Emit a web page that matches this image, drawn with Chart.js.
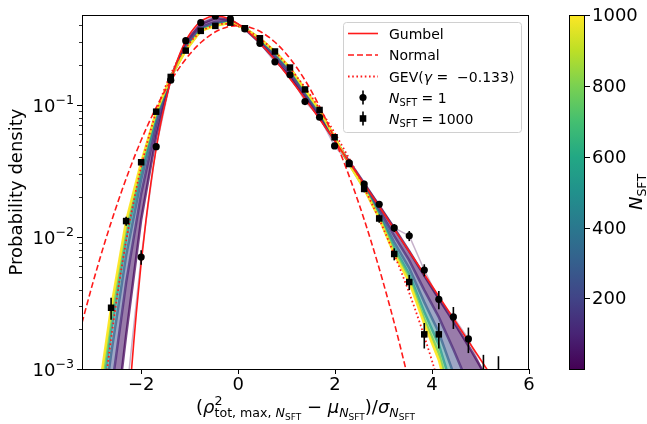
<!DOCTYPE html>
<html>
<head>
<meta charset="utf-8">
<script src="https://cdn.jsdelivr.net/npm/chart.js@4.4.1/dist/chart.umd.min.js"></script>
<style>
  html,body{margin:0;padding:0;background:#fff}
  #wrap{width:647px;height:424px}
</style>
</head>
<body>
<div id="wrap"><canvas id="c" width="647" height="424"></canvas></div>
<script>
/* ---- histogram bin centres ---- */
const xBins=[-2.92,-2.62,-2.31,-2.00,-1.69,-1.39,-1.08,-0.77,-0.47,-0.16,0.14,0.45,0.76,1.07,1.38,1.68,1.99,2.29,2.60,2.91,3.22,3.53,3.84,4.14,4.44,4.75,5.06,5.37];

/* ---- coloured N_SFT curves ---- */
const nsftLevels=[30,120,300,550,800,1000];
const nsft30  =[2e-5,2e-4,1.8e-3,0.0135,0.058,0.16,0.30,0.41,0.455,0.44,0.375,0.295,0.222,0.162,0.114,0.08,0.054,0.0375,0.0255,0.0172,0.0117,7.8e-3,5.1e-3,3.4e-3,2.3e-3,1.5e-3,9.5e-4,6e-4];
const nsft120 =[8.5e-5,6.6e-4,4.5e-3,0.0212,0.0703,0.1614,0.2805,0.389,0.4276,0.4305,0.3776,0.3062,0.236,0.1746,0.1213,0.0851,0.0552,0.0367,0.0246,0.0161,0.0102,6.64e-3,3.96e-3,2.47e-3,1.41e-3,7.6e-4,4e-4,2.2e-4];
const nsft300 =[1.9e-4,1.29e-3,7.2e-3,0.0272,0.0782,0.1622,0.27,0.3776,0.414,0.4256,0.3793,0.3126,0.2438,0.1824,0.1256,0.0879,0.056,0.0362,0.0241,0.01524,9.1e-3,5.81e-3,3.21e-3,1.89e-3,9.3e-4,4.4e-4,1.9e-4,9e-5];
const nsft550 =[3.1e-4,1.95e-3,9.8e-3,0.0317,0.0834,0.1626,0.2642,0.3707,0.4055,0.4227,0.3802,0.3162,0.2489,0.1871,0.1282,0.0897,0.0565,0.036,0.0236,0.01459,8.3e-3,5.21e-3,2.7e-3,1.53e-3,6.7e-4,2.8e-4,1e-4,4e-5];
const nsft800 =[4.3e-4,2.51e-3,0.012,0.035,0.0871,0.163,0.26,0.3664,0.3999,0.4207,0.3811,0.3184,0.2523,0.1901,0.13,0.091,0.0568,0.0358,0.0233,0.01413,7.74e-3,4.81e-3,2.38e-3,1.31e-3,5.3e-4,2e-4,7e-5,2.5e-5];
const nsft1000=[5e-4,2.9e-3,0.0132,0.0368,0.0889,0.163,0.258,0.364,0.397,0.42,0.381,0.32,0.254,0.192,0.131,0.0916,0.0569,0.0357,0.0231,0.0138,7.4e-3,4.56e-3,2.2e-3,1.17e-3,4.5e-4,1.6e-4,5e-5,1.5e-5];
const nsft1   =[3e-5,1e-4,6e-4,7.05e-3,0.0483,0.154,0.307,0.42,0.472,0.448,0.377,0.293,0.212,0.169,0.106,0.0807,0.0489,0.0364,0.0252,0.0177,0.0117,0.0102,5.62e-3,3.37e-3,2.48e-3,1.69e-3,9.3e-4,9e-4];

/* ---- markers with error bars ---- */
const n1Y   =[null,null,null,7.05e-3,0.0483,0.154,0.307,0.42,0.472,0.448,0.377,0.293,0.212,0.169,0.106,0.0807,0.0489,0.0364,0.0252,0.0177,0.0117,0.0102,5.62e-3,3.37e-3,2.48e-3,1.69e-3,9.3e-4,9e-4];
const n1Err =[null,null,null,9e-4,2.4e-3,5e-3,7e-3,8e-3,8e-3,8e-3,8e-3,7e-3,6e-3,5e-3,4e-3,3e-3,2.5e-3,2e-3,1.5e-3,9e-4,8e-4,9e-4,5.9e-4,5.3e-4,4.7e-4,3.7e-4,3.5e-4,3.5e-4];
const n1000Y  =[null,2.91e-3,0.0132,0.0368,0.0889,0.163,0.258,0.364,0.397,0.42,0.381,0.32,0.254,0.192,0.131,0.0916,0.0569,0.0357,0.0231,0.0138,7.43e-3,4.56e-3,1.83e-3,1.83e-3,null,null,null,null];
const n1000Err=[null,5.5e-4,1.05e-3,1.5e-3,3e-3,5e-3,6e-3,7e-3,7e-3,7e-3,7e-3,6e-3,6e-3,5e-3,4e-3,3e-3,2.5e-3,1.8e-3,1.3e-3,1e-3,7.8e-4,6e-4,4e-4,4e-4,null,null,null,null];

/* ---- reference distributions ---- */
const gumbelX=[-2.3,-2.25,-2.2,-2.15,-2.1,-2.0,-1.9,-1.8,-1.7,-1.6,-1.5,-1.4,-1.3,-1.2,-1.1,-1.0,-0.9,-0.8,-0.6,-0.45,-0.3,-0.2,0,0.25,0.5,0.75,1.0,1.5,2.0,2.5,3.0,3.5,4.0,4.5,5.0,5.5];
const gumbelY=[3.0e-4,5.5e-4,9.7e-4,1.63e-3,2.64e-3,6.32e-3,0.0134,0.0255,0.0443,0.0709,0.1056,0.1475,0.195,0.2451,0.2955,0.343,0.3848,0.4195,0.4626,0.4718,0.4637,0.4504,0.4107,0.3477,0.2822,0.222,0.171,0.0969,0.0531,0.0285,0.0152,8.04e-3,4.25e-3,2.24e-3,1.18e-3,6.2e-4];
const normalX=[-3.22,-3.0,-2.75,-2.5,-2.25,-2.0,-1.75,-1.5,-1.25,-1.0,-0.75,-0.5,-0.25,0,0.25,0.5,0.75,1.0,1.25,1.5,1.75,2.0,2.25,2.5,2.75,3.0,3.25,3.5];
const normalY=[2.24e-3,4.43e-3,9.09e-3,0.0175,0.0317,0.054,0.0863,0.1295,0.1826,0.242,0.3011,0.3521,0.3867,0.3989,0.3867,0.3521,0.3011,0.242,0.1826,0.1295,0.0863,0.054,0.0317,0.0175,9.09e-3,4.43e-3,2.03e-3,8.7e-4];
const gevX=[-2.8,-2.7,-2.6,-2.5,-2.4,-2.25,-2.0,-1.75,-1.5,-1.25,-1.0,-0.75,-0.5,-0.25,0,0.25,0.5,0.75,1.0,1.25,1.5,1.75,2.0,2.25,2.5,2.75,3.0,3.25,3.5,3.75,4.0,4.25];
const gevY=[5.1e-4,1.01e-3,1.92e-3,3.46e-3,5.95e-3,0.0123,0.0339,0.075,0.1375,0.2154,0.295,0.3608,0.4012,0.4116,0.3946,0.3573,0.3082,0.2548,0.203,0.1567,0.1174,0.0855,0.0606,0.0418,0.028,0.0182,0.0115,6.94e-3,4.03e-3,2.22e-3,1.15e-3,5.6e-4];

/* ---- axes ---- */
const xTicks=[-2,0,2,4,6];
const yMajor=[1e-3,1e-2,1e-1];
const yMajorExp=['\u22123','\u22122','\u22121'];
const yMinor=[2e-3,3e-3,4e-3,5e-3,6e-3,7e-3,8e-3,9e-3,2e-2,3e-2,4e-2,5e-2,6e-2,7e-2,8e-2,9e-2,2e-1,3e-1,4e-1];
const cbTicks=[200,400,600,800,1000];

const FONT='"DejaVu Sans"';
const bandStyle=[
  {line:'rgba(70,8,92,0.75)',  fill:'rgba(70,16,100,0.55)'},
  {line:'rgba(72,37,118,0.7)', fill:'rgba(62,80,140,0.5)'},
  {line:'rgba(53,95,141,0.7)', fill:'rgba(37,138,140,0.5)'},
  {line:'rgba(31,154,138,0.7)',fill:'rgba(90,198,95,0.5)'},
  {line:'rgba(122,209,81,0.8)',fill:'rgba(215,228,40,0.65)'},
  {line:'rgba(253,231,37,0.95)',fill:false}
];
const viridis=['#440154','#482475','#414487','#355f8d','#2a788e','#21918c','#22a884','#44bf70','#7ad151','#bddf26','#fde725'];

const pts=(xs,ys,es)=>xs.map((x,i)=>({x,y:ys[i],e:es?es[i]:null})).filter(p=>p.y!=null);
const bandArrays=[nsft30,nsft120,nsft300,nsft550,nsft800,nsft1000];

const datasets=bandArrays.map((arr,i)=>({
  label:'N'+nsftLevels[i],data:pts(xBins,arr),showLine:true,borderColor:bandStyle[i].line,
  backgroundColor:bandStyle[i].fill||'transparent',fill:bandStyle[i].fill?'+1':false,
  borderWidth:2.5,pointRadius:0,order:10-i
}));
datasets.push(
  {label:'N1 line',data:pts(xBins,nsft1),showLine:true,borderColor:'rgba(68,1,84,0.3)',borderWidth:1.5,pointRadius:0,order:4},
  {label:'Gumbel',data:pts(gumbelX,gumbelY),showLine:true,borderColor:'#ff1a1a',borderWidth:1.6,pointRadius:0,cubicInterpolationMode:'monotone',order:3},
  {label:'Normal',data:pts(normalX,normalY),showLine:true,borderColor:'#ff1a1a',borderWidth:1.6,borderDash:[6,3],pointRadius:0,cubicInterpolationMode:'monotone',order:3},
  {label:'GEV',data:pts(gevX,gevY),showLine:true,borderColor:'#ff1a1a',borderWidth:1.8,borderDash:[1.6,2.6],pointRadius:0,cubicInterpolationMode:'monotone',order:3},
  {label:'NSFT=1',data:pts(xBins,n1Y,n1Err),showLine:false,pointStyle:'circle',pointRadius:3.6,backgroundColor:'#000',borderWidth:0,order:1,errs:true},
  {label:'NSFT=1000',data:pts(xBins,n1000Y,n1000Err),showLine:false,pointStyle:'rect',pointRadius:4.6,backgroundColor:'#000',borderWidth:0,order:0,errs:true}
);

function runText(ctx,x,y,parts,draw){
  let cx=x;
  parts.forEach(p=>{
    ctx.font=(p.it?'italic ':'')+p.s+'px '+FONT;
    const w=ctx.measureText(p.t).width;
    if(draw) ctx.fillText(p.t,cx,y+(p.dy||0));
    if(!p.hold) cx+=w;
  });
  return cx-x;
}

const decor={
  id:'decor',
  beforeDatasetDraw(chart,args){
    const ds=chart.data.datasets[args.index];
    if(!ds.errs) return;
    const {ctx,chartArea:a,scales:{x,y}}=chart;
    ctx.save();
    ctx.beginPath();ctx.rect(a.left,a.top,a.right-a.left,a.bottom-a.top);ctx.clip();
    ctx.strokeStyle='#000';ctx.lineWidth=1.6;
    ds.data.forEach(p=>{
      if(!p.e) return;
      const px=x.getPixelForValue(p.x);
      ctx.beginPath();
      ctx.moveTo(px,y.getPixelForValue(p.y+p.e));
      ctx.lineTo(px,y.getPixelForValue(Math.max(p.y-p.e,1e-6)));
      ctx.stroke();
    });
    ctx.restore();
  },
  afterDraw(chart){
    const {ctx,chartArea:a,scales:{x,y,cb}}=chart;
    ctx.save();
    ctx.fillStyle='#000';ctx.strokeStyle='#000';
    // frame
    ctx.lineWidth=1;ctx.strokeRect(a.left+0.5,a.top+0.5,a.right-a.left-1,a.bottom-a.top);
    // x ticks
    xTicks.forEach(v=>{const px=Math.round(x.getPixelForValue(v))+0.5;ctx.beginPath();ctx.moveTo(px,a.bottom);ctx.lineTo(px,a.bottom+5);ctx.stroke();});
    // y ticks
    yMinor.forEach(v=>{const py=Math.round(y.getPixelForValue(v))+0.5;ctx.lineWidth=0.8;ctx.beginPath();ctx.moveTo(a.left-3,py);ctx.lineTo(a.left,py);ctx.stroke();});
    ctx.textBaseline='alphabetic';ctx.textAlign='left';
    yMajor.forEach((v,i)=>{
      const py=Math.round(y.getPixelForValue(v))+0.5;
      ctx.lineWidth=1;ctx.beginPath();ctx.moveTo(a.left-5,py);ctx.lineTo(a.left,py);ctx.stroke();
      const parts=[{t:'10',s:18},{t:yMajorExp[i],s:12.6,dy:-8}];
      const w=runText(ctx,0,0,parts,false);
      runText(ctx,a.left-8-w,py+6.5,parts,true);
    });
    // y label
    ctx.save();ctx.translate(17.5,192);ctx.rotate(-Math.PI/2);
    ctx.font='18px '+FONT;ctx.textAlign='center';ctx.textBaseline='middle';
    ctx.fillText('Probability density',0,0);ctx.restore();
    // x label
    const xl=[{t:'(',s:18},{t:'\u03c1',s:18,it:1},{t:'2',s:12.6,dy:-8,hold:1},{t:'tot, max, ',s:12.6,dy:4},{t:'N',s:12.6,dy:4,it:1},{t:'SFT',s:9,dy:7},
      {t:' \u2212 ',s:18},{t:'\u03bc',s:18,it:1},{t:'N',s:12.6,dy:4,it:1},{t:'SFT',s:9,dy:7},{t:')/',s:18},{t:'\u03c3',s:18,it:1},{t:'N',s:12.6,dy:4,it:1},{t:'SFT',s:9,dy:7}];
    ctx.textAlign='left';ctx.textBaseline='alphabetic';
    const xw=runText(ctx,0,0,xl,false);
    runText(ctx,(a.left+a.right)/2-xw/2,413,xl,true);
    // colour bar
    const cbL=569,cbR=585;
    const g=ctx.createLinearGradient(0,a.bottom,0,a.top);
    viridis.forEach((c,i)=>g.addColorStop(i/(viridis.length-1),c));
    ctx.fillStyle=g;ctx.fillRect(cbL,a.top,cbR-cbL,a.bottom-a.top);
    ctx.strokeStyle='#000';ctx.lineWidth=1;ctx.strokeRect(cbL+0.5,a.top+0.5,cbR-cbL-1,a.bottom-a.top);
    ctx.fillStyle='#000';ctx.font='18px '+FONT;ctx.textBaseline='middle';ctx.textAlign='left';
    cbTicks.forEach(v=>{
      const py=Math.round(cb.getPixelForValue(v))+0.5;
      ctx.beginPath();ctx.moveTo(cbR,py);ctx.lineTo(cbR+5,py);ctx.stroke();
      ctx.fillText(String(v),cbR+7,py+1);
    });
    ctx.textBaseline='alphabetic';
    ctx.save();ctx.translate(636,192);ctx.rotate(-Math.PI/2);
    const cl=[{t:'N',s:18,it:1},{t:'SFT',s:12.6,dy:4}];
    const cw=runText(ctx,0,0,cl,false);
    runText(ctx,-cw/2,6,cl,true);ctx.restore();
    // legend
    const L={x:343.5,y:22.5,w:178,h:110};
    ctx.beginPath();ctx.roundRect(L.x,L.y,L.w,L.h,3);
    ctx.fillStyle='rgba(255,255,255,0.85)';ctx.fill();ctx.strokeStyle='#d0d0d0';ctx.stroke();
    const rows=[33.5,55,76.5,97.5,118.5];
    const lines=[[],[6,3],[1.6,2.6]];
    ctx.strokeStyle='#ff1a1a';
    lines.forEach((d,i)=>{ctx.setLineDash(d);ctx.lineWidth=i===2?1.8:1.6;ctx.beginPath();ctx.moveTo(348,rows[i]);ctx.lineTo(378,rows[i]);ctx.stroke();});
    ctx.setLineDash([]);
    ctx.strokeStyle='#000';ctx.fillStyle='#000';ctx.lineWidth=1.6;
    [3,4].forEach(i=>{ctx.beginPath();ctx.moveTo(363,rows[i]-7);ctx.lineTo(363,rows[i]+7);ctx.stroke();});
    ctx.beginPath();ctx.arc(363,rows[3],3.6,0,Math.PI*2);ctx.fill();
    ctx.fillRect(363-3.3,rows[4]-3.3,6.6,6.6);
    const lt=[
      [{t:'Gumbel',s:14}],
      [{t:'Normal',s:14}],
      [{t:'GEV(',s:14},{t:'\u03b3',s:14,it:1},{t:' =  \u22120.133)',s:14}],
      [{t:'N',s:14,it:1},{t:'SFT',s:9.8,dy:3.5},{t:' = 1',s:14}],
      [{t:'N',s:14,it:1},{t:'SFT',s:9.8,dy:3.5},{t:' = 1000',s:14}]
    ];
    lt.forEach((p,i)=>runText(ctx,389,rows[i]+5,p,true));
    ctx.restore();
  }
};

Chart.defaults.font.family=FONT;
Chart.defaults.color='#000';

new Chart(document.getElementById('c'),{
  type:'scatter',
  data:{datasets},
  options:{
    responsive:false,animation:false,events:[],
    layout:{padding:{top:15,left:0,right:0,bottom:0}},
    plugins:{legend:{display:false},tooltip:{enabled:false}},
    scales:{
      x:{type:'linear',position:'bottom',min:-3.22,max:6,
        grid:{display:false,drawTicks:false},border:{display:false},
        afterBuildTicks:s=>{s.ticks=xTicks.map(v=>({value:v}));},
        afterFit:s=>{s.height=55;},
        ticks:{font:{size:18},padding:6,autoSkip:false,maxRotation:0,callback:v=>String(v).replace('-','\u2212')}},
      y:{type:'logarithmic',position:'left',min:1e-3,max:0.48,
        grid:{display:false,drawTicks:false},border:{display:false},
        ticks:{display:false},
        afterFit:s=>{s.width=82;}},
      cb:{type:'linear',position:'right',min:1,max:1000,
        grid:{display:false,drawTicks:false},border:{display:false},
        ticks:{display:false},
        afterFit:s=>{s.width=118;}}
    }
  },
  plugins:[decor]
});
</script>
</body>
</html>
